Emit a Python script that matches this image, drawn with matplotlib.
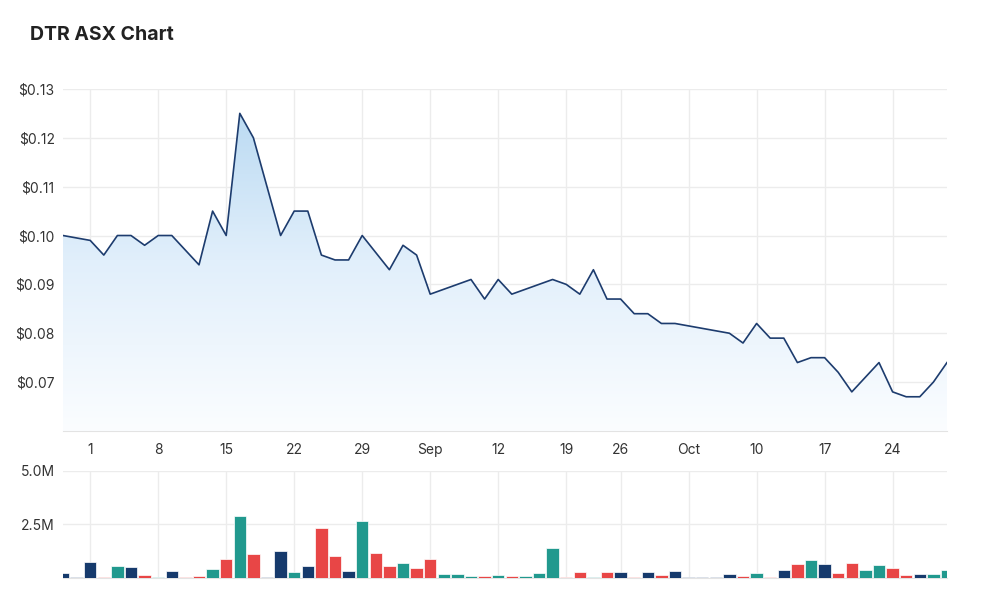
"""DTR ASX price / volume chart"""

import numpy as np
import matplotlib
matplotlib.use('Agg')
import matplotlib.pyplot as plt
from matplotlib.colors import LinearSegmentedColormap

plt.rcParams['font.family'] = ['Inter', 'DejaVu Sans']

# trading days, Jul 28 - Oct 28 2022 (ordinal axis, holidays skipped)
dates = [
    '07-28', '07-29',
    '08-01', '08-02', '08-03', '08-04', '08-05',
    '08-08', '08-09', '08-10', '08-11', '08-12',
    '08-15', '08-16', '08-17', '08-18', '08-19',
    '08-22', '08-23', '08-24', '08-25', '08-26',
    '08-29', '08-30', '08-31', '09-01', '09-02',
    '09-05', '09-06', '09-07', '09-08', '09-09',
    '09-12', '09-13', '09-14', '09-15', '09-16',
    '09-19', '09-20', '09-21', '09-23',
    '09-26', '09-27', '09-28', '09-29', '09-30',
    '10-03', '10-04', '10-05', '10-06', '10-07',
    '10-10', '10-11', '10-12', '10-13', '10-14',
    '10-17', '10-18', '10-19', '10-20', '10-21',
    '10-24', '10-25', '10-26', '10-27', '10-28',
]

prices = [
    0.100, 0.0995,
    0.099, 0.096, 0.100, 0.100, 0.098,
    0.100, 0.100, 0.097, 0.094, 0.105,
    0.100, 0.125, 0.120, 0.110, 0.100,
    0.105, 0.105, 0.096, 0.095, 0.095,
    0.100, 0.0965, 0.093, 0.098, 0.096,
    0.088, 0.089, 0.090, 0.091, 0.087,
    0.091, 0.088, 0.089, 0.090, 0.091,
    0.090, 0.088, 0.093, 0.087,
    0.087, 0.084, 0.084, 0.082, 0.082,
    0.0815, 0.081, 0.0805, 0.080, 0.078,
    0.082, 0.079, 0.079, 0.074, 0.075,
    0.075, 0.072, 0.068, 0.071, 0.074,
    0.068, 0.067, 0.067, 0.070, 0.074,
]

# volume in millions of shares
volumes = [
    0.23, 0.04,
    0.73, 0.04, 0.53, 0.49, 0.13,
    0.04, 0.33, 0.04, 0.08, 0.42,
    0.89, 2.89, 1.09, 0.04, 1.23,
    0.28, 0.53, 2.33, 1.03, 0.33,
    2.64, 1.14, 0.53, 0.69, 0.44,
    0.89, 0.19, 0.19, 0.08, 0.08,
    0.12, 0.08, 0.08, 0.23, 1.37,
    0.04, 0.28, 0.04, 0.28,
    0.28, 0.04, 0.28, 0.13, 0.33,
    0.04, 0.04, 0.04, 0.19, 0.08,
    0.23, 0.04, 0.37, 0.63, 0.83,
    0.63, 0.23, 0.69, 0.37, 0.58,
    0.44, 0.13, 0.18, 0.18, 0.37,
]

# day direction used for bar colouring
direction = [
    'flat', 'flat',
    'flat', 'down', 'up', 'flat', 'down',
    'up', 'flat', 'down', 'down', 'up',
    'down', 'up', 'down', 'flat', 'flat',
    'up', 'flat', 'down', 'down', 'flat',
    'up', 'down', 'down', 'up', 'down',
    'down', 'up', 'up', 'up', 'down',
    'up', 'down', 'up', 'up', 'up',
    'down', 'down', 'up', 'down',
    'flat', 'down', 'flat', 'down', 'flat',
    'flat', 'flat', 'flat', 'flat', 'down',
    'up', 'down', 'flat', 'down', 'up',
    'flat', 'down', 'down', 'up', 'up',
    'down', 'down', 'flat', 'up', 'up',
]

tick_dates = ['08-01', '08-08', '08-15', '08-22', '08-29', '09-05', '09-12',
              '09-19', '09-26', '10-03', '10-10', '10-17', '10-24']
tick_labels = ['1', '8', '15', '22', '29', 'Sep', '12', '19', '26', 'Oct',
               '10', '17', '24']

price_ticks = [0.07, 0.08, 0.09, 0.10, 0.11, 0.12, 0.13]

dir_colors = {'up': '#21998e', 'down': '#e84646', 'flat': '#163a6c'}
grid_color = '#ececec'
text_color = '#333333'

x = np.arange(len(dates))
tick_pos = [dates.index(d) for d in tick_dates]

fig = plt.figure(figsize=(10, 6.07), dpi=100)
fig.patch.set_facecolor('white')

# price panel
ax = fig.add_axes([0.063, 0.290, 0.884, 0.5635])
ax.plot(x, prices, color='#1d3c6e', linewidth=1.2, zorder=3)

poly = ax.fill_between(x, prices, 0.06, color='none', zorder=2)
grad = np.linspace(0, 1, 256).reshape(-1, 1)
cmap = LinearSegmentedColormap.from_list(
    'fade', ['#fbfdff', '#e1effb', '#b5d7f1'])
img = ax.imshow(grad, extent=[0, len(x) - 1, 0.06, 0.13], origin='lower',
                aspect='auto', cmap=cmap, zorder=2)
img.set_clip_path(poly.get_paths()[0], transform=ax.transData)

ax.set_xlim(0, len(x) - 1)
ax.set_ylim(0.06, 0.13)
ax.set_yticks(price_ticks)
ax.set_yticklabels([f'${v:.2f}' for v in price_ticks])
ax.set_xticks(tick_pos)
ax.set_xticklabels(tick_labels)
ax.grid(color=grid_color, linewidth=1, zorder=0)
ax.set_axisbelow(True)
for side in ['top', 'right', 'left']:
    ax.spines[side].set_visible(False)
ax.spines['bottom'].set_color('#e3e3e3')
ax.tick_params(length=0, labelsize=10, colors=text_color)
ax.tick_params(axis='x', pad=9)
ax.tick_params(axis='y', pad=6)

# volume panel
axv = fig.add_axes([0.063, 0.0483, 0.884, 0.1762])
axv.bar(x, volumes, width=0.9,
        color=[dir_colors[d] for d in direction],
        edgecolor='white', linewidth=0.5, zorder=3)
axv.set_xlim(0, len(x) - 1)
axv.set_ylim(0, 5.0)
axv.set_yticks([2.5, 5.0])
axv.set_yticklabels(['2.5M', '5.0M'])
axv.set_xticks(tick_pos)
axv.set_xticklabels([])
axv.grid(color=grid_color, linewidth=1, zorder=0)
axv.set_axisbelow(True)
for side in ['top', 'right', 'left']:
    axv.spines[side].set_visible(False)
axv.spines['bottom'].set_color('#e3e3e3')
axv.tick_params(length=0, labelsize=10, colors=text_color, pad=6)

fig.text(0.030, 0.942, 'DTR ASX Chart', fontsize=14, fontweight='bold',
         color='#222222', va='center', ha='left')

fig.savefig('out.png', dpi=100, facecolor='white')
